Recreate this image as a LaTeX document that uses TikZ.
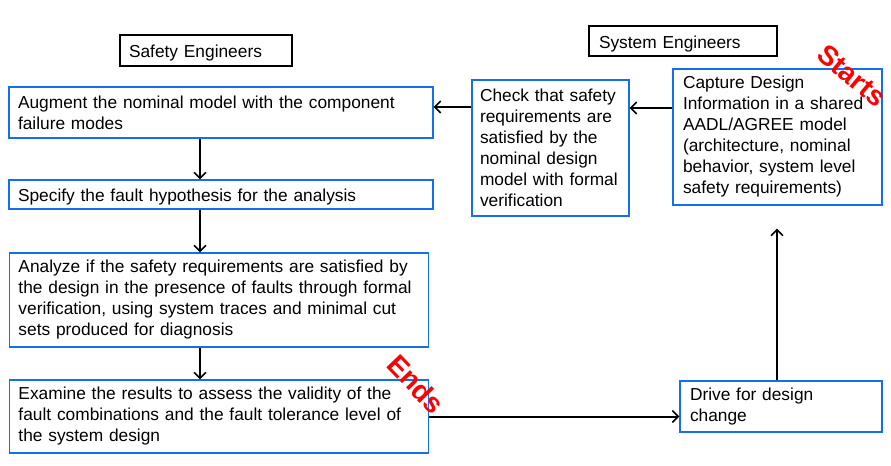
\documentclass[tikz,border=0pt]{standalone}
\usepackage{fontspec}
\setmainfont{Liberation Sans}
\usetikzlibrary{arrows.meta}
\definecolor{boxblue}{RGB}{20,110,240}
\newcommand{\lowtext}[1]{\raisebox{-2pt}[\height][\depth]{#1}}
\begin{document}
\begin{tikzpicture}[x=0.75pt,y=-0.75pt,
  base/.style={font=\fontsize{13}{15.75}\selectfont, align=left, inner ysep=0pt, anchor=center, line width=0.8pt},
  bluebox/.style={base, draw=boxblue},
  blackbox/.style={base, draw=black},
  conn/.style={line width=1.5pt, -{Straight Barb[length=4.5pt,width=9pt,line width=1.2pt]}},
  tag/.style={text=red, font=\fontsize{21}{22}\selectfont\bfseries, inner sep=0pt}
]
\useasboundingbox (0,0) rectangle (891,466);

\node[blackbox, minimum width=129pt, minimum height=23.25pt, text width=115.5pt, inner xsep=6.75pt] (safety) at (206,50.5) {\lowtext{Safety Engineers}};
\node[blackbox, minimum width=141pt, minimum height=22.5pt, text width=126pt, inner xsep=7.5pt] (system) at (683,41) {\lowtext{System Engineers}};

\node[bluebox, minimum width=318pt, minimum height=38.25pt, text width=304.5pt, inner xsep=6.75pt] (augment) at (221,112.5) {Augment the nominal model with the component\\failure modes};
\node[bluebox, minimum width=318pt, minimum height=21.75pt, text width=304.5pt, inner xsep=6.75pt] (specify) at (221,194.5) {\lowtext{Specify the fault hypothesis for the analysis}};
\node[bluebox, minimum width=314.25pt, minimum height=70.5pt, text width=300.75pt, inner xsep=6.75pt] (analyze) at (219,300) {Analyze if the safety requirements are satisfied by\\the design in the presence of faults through formal\\verification, using system traces and minimal cut\\sets produced for diagnosis};
\node[bluebox, minimum width=314.25pt, minimum height=54.75pt, text width=300.75pt, inner xsep=6.75pt] (examine) at (219,416.5) {Examine the results to assess the validity of the\\fault combinations and the fault tolerance level of\\the system design};

\node[bluebox, minimum width=117.75pt, minimum height=102pt, text width=105.75pt, inner xsep=6pt] (check) at (550.5,148) {Check that safety\\requirements are\\satisfied by the\\nominal design\\model with formal\\verification};
\node[bluebox, minimum width=156.75pt, minimum height=102pt, text width=141.75pt, inner xsep=7.5pt] (capture) at (777.5,137) {Capture Design\\Information in a shared\\AADL/AGREE model\\(architecture, nominal\\behavior, system level\\safety requirements)};
\node[bluebox, minimum width=151.5pt, minimum height=38.25pt, text width=136.5pt, inner xsep=7.5pt] (drive) at (781,406.5) {Drive for design\\change};

\node[tag, rotate=-40] (starts) at (852,76) {Starts};
\node[tag, rotate=-46] (ends) at (416,384) {Ends};

\path ([yshift=21.75pt]capture.west) coordinate (c2);
\draw[conn] (c2) -- (c2 -| check.east);
\path ([yshift=30.75pt]check.west) coordinate (c1);
\draw[conn] (c1) -- (c1 -| augment.east);

\draw[conn] ([xshift=-15.75pt]augment.south) -- ([xshift=-15.75pt]augment.south |- specify.north);
\draw[conn] ([xshift=-15.75pt]specify.south) -- ([xshift=-15.75pt]specify.south |- analyze.north);
\draw[conn] ([xshift=-14.25pt]analyze.south) -- ([xshift=-14.25pt]analyze.south |- examine.north);

\draw[conn] (examine.east) -- (examine.east -| drive.west);
\draw[conn, shorten >=17.25pt] ([xshift=-3pt]drive.north) -- ([xshift=-3pt]drive.north |- capture.south);
\end{tikzpicture}
\end{document}
